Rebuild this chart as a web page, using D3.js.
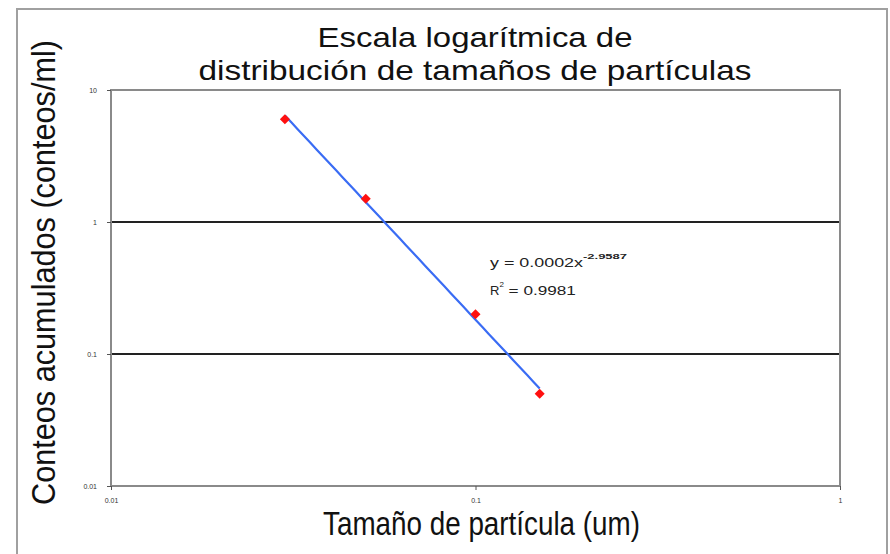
<!DOCTYPE html>
<html>
<head>
<meta charset="utf-8">
<script src="https://cdn.jsdelivr.net/npm/d3@7"></script>
<style>
  html, body { margin: 0; padding: 0; background: #fff; }
  svg { display: block; }
  .big { font-family: "Liberation Sans", Arial, sans-serif; }
  .small { font-family: "Liberation Sans", Arial, sans-serif; }
</style>
</head>
<body>
<svg id="chart" width="890" height="554"></svg>
<script>
// Particle size (um) and cumulative counts (counts/ml)
const sizes = [0.03, 0.05, 0.1, 0.15];
const counts = [6.0, 1.5, 0.2, 0.05];

// Power-law trendline as reported on the chart
const trendCoef = 0.0002;
const trendExp = -2.9587;
const rSquared = "0.9981";

const xTicks = [0.01, 0.1, 1];
const yTicks = [0.01, 0.1, 1, 10];
const yGrid = [0.1, 1];

const titleLines = ["Escala logarítmica de", "distribución de tamaños de partículas"];
const titleWidths = [315, 553];
const xTitle = "Tamaño de partícula (um)";
const yTitle = "Conteos acumulados (conteos/ml)";

const svg = d3.select("#chart");
const plot = { left: 111, right: 840, top: 90, bottom: 486 };

const x = d3.scaleLog().domain([0.01, 1]).range([plot.left, plot.right]);
const y = d3.scaleLog().domain([0.01, 10]).range([plot.bottom, plot.top]);

// Outer chart frame
svg.append("rect")
  .attr("x", 17).attr("y", 9).attr("width", 870).attr("height", 560)
  .attr("fill", "#fff").attr("stroke", "#a0a0a0").attr("stroke-width", 2);

// Horizontal gridlines
svg.append("g").selectAll("line").data(yGrid).join("line")
  .attr("x1", plot.left).attr("x2", plot.right)
  .attr("y1", d => y(d)).attr("y2", d => y(d))
  .attr("stroke", "#222").attr("stroke-width", 2);

// Plot area border
svg.append("rect")
  .attr("x", plot.left).attr("y", plot.top)
  .attr("width", plot.right - plot.left).attr("height", plot.bottom - plot.top)
  .attr("fill", "none").attr("stroke", "#8a8a8a").attr("stroke-width", 2);

// Axes
const xAxis = svg.append("g")
  .attr("transform", `translate(0,${plot.bottom})`)
  .call(d3.axisBottom(x).tickValues(xTicks).tickFormat(d3.format("~g")).tickSize(4).tickPadding(8));
const yAxis = svg.append("g")
  .attr("transform", `translate(${plot.left},0)`)
  .call(d3.axisLeft(y).tickValues(yTicks).tickFormat(d3.format("~g")).tickSize(4).tickPadding(10));
[xAxis, yAxis].forEach(g => {
  g.select(".domain").remove();
  g.selectAll(".tick line").attr("stroke", "#555");
  g.selectAll(".tick text").attr("class", "small").attr("font-size", 7).attr("fill", "#333");
});

// Trendline across the data range
const trendPts = d3.range(0, 41).map(i => {
  const s = Math.exp(Math.log(d3.min(sizes)) + i / 40 * (Math.log(d3.max(sizes)) - Math.log(d3.min(sizes))));
  return [s, trendCoef * Math.pow(s, trendExp)];
});
svg.append("path")
  .datum(trendPts)
  .attr("d", d3.line().x(d => x(d[0])).y(d => y(d[1])))
  .attr("fill", "none").attr("stroke", "#3a6cf4").attr("stroke-width", 2.2);

// Data markers (diamonds)
svg.append("g").selectAll("path").data(sizes).join("path")
  .attr("transform", (d, i) => `translate(${x(d)},${y(counts[i])})`)
  .attr("d", d3.symbol().type(d3.symbolDiamond2).size(64))
  .attr("fill", "#ff1010");

// Trendline equation
const eq = svg.append("text").attr("class", "small").attr("x", 490).attr("y", 267)
  .attr("font-size", 13).attr("fill", "#222");
eq.append("tspan").attr("textLength", 93).attr("lengthAdjust", "spacingAndGlyphs").text(`y = ${trendCoef}x`);
eq.append("tspan").attr("dy", -8).attr("font-size", 8).attr("font-weight", "bold")
  .attr("textLength", 44).attr("lengthAdjust", "spacingAndGlyphs").text(trendExp);
const r2 = svg.append("text").attr("class", "small").attr("x", 490).attr("y", 295)
  .attr("font-size", 13).attr("fill", "#222");
r2.append("tspan").text("R");
r2.append("tspan").attr("dy", -8).attr("font-size", 8).text("2");
r2.append("tspan").attr("dy", 8).attr("textLength", 72).attr("lengthAdjust", "spacingAndGlyphs").text(` = ${rSquared}`);

// Title
svg.append("g").selectAll("text").data(titleLines).join("text")
  .attr("class", "big")
  .attr("x", (d, i) => 475 - titleWidths[i] / 2).attr("y", (d, i) => 47 + i * 33)
  .attr("font-size", 28.5).attr("fill", "#111")
  .attr("textLength", (d, i) => titleWidths[i]).attr("lengthAdjust", "spacingAndGlyphs")
  .text(d => d);

// Axis titles
svg.append("text").attr("class", "big")
  .attr("x", 323).attr("y", 535)
  .attr("textLength", 317).attr("lengthAdjust", "spacingAndGlyphs")
  .attr("font-size", 33).attr("fill", "#111").text(xTitle);
svg.append("text").attr("class", "big")
  .attr("transform", "translate(55,505) rotate(-90)")
  .attr("textLength", 465).attr("lengthAdjust", "spacingAndGlyphs")
  .attr("font-size", 33).attr("fill", "#111").text(yTitle);
</script>
</body>
</html>
